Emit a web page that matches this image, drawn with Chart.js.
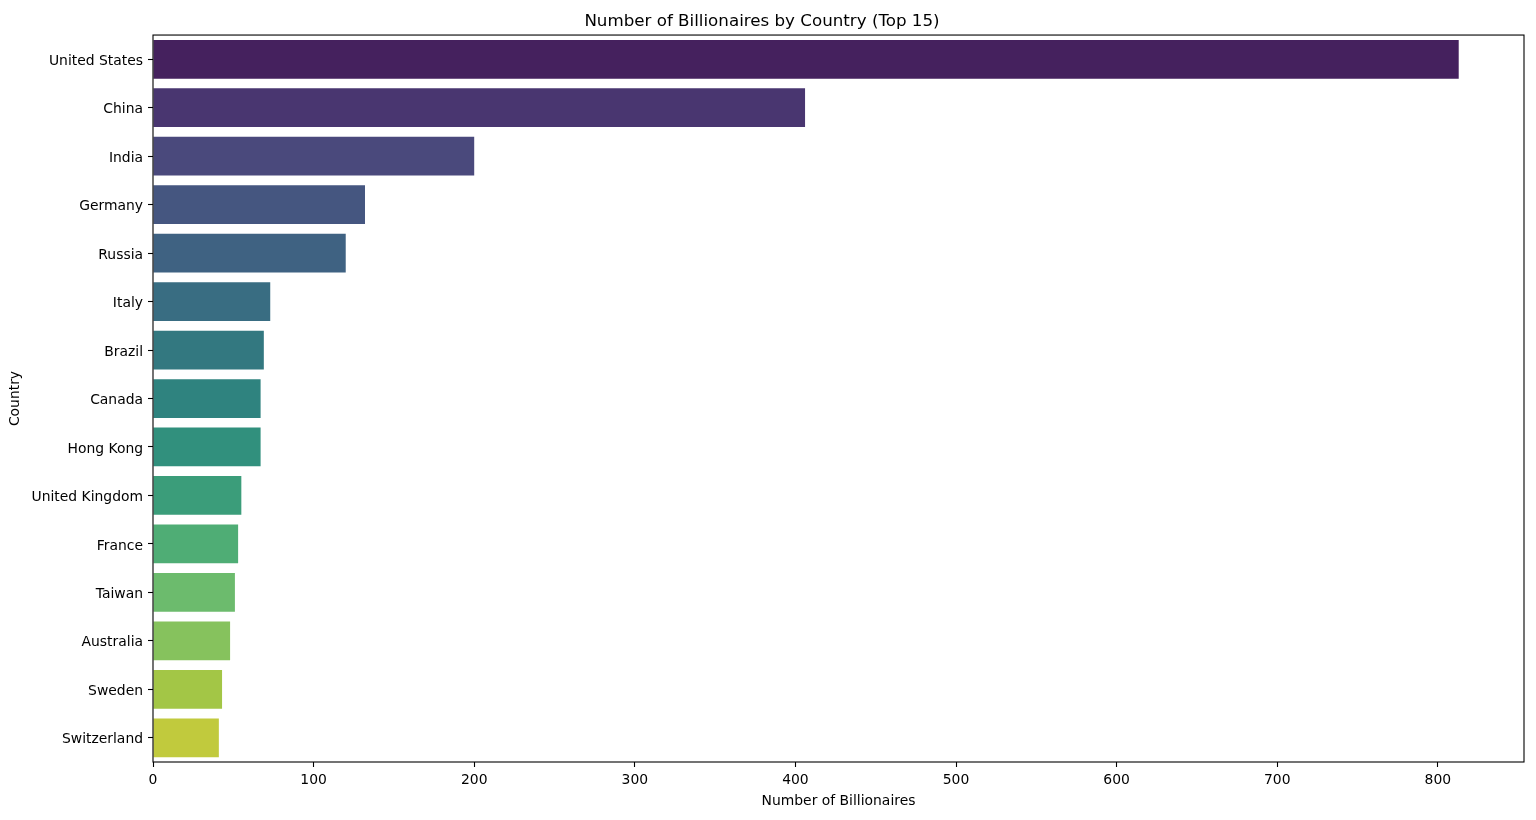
<!DOCTYPE html>
<html>
<head>
<meta charset="utf-8">
<script src="https://cdn.jsdelivr.net/npm/chart.js@4"></script>
<style>
  html, body { margin: 0; padding: 0; background: #fff; }
  #wrap { width: 1536px; height: 820px; }
</style>
</head>
<body>
<div id="wrap"><canvas id="bars"></canvas></div>
<script>
var countries = ["United States","China","India","Germany","Russia","Italy","Brazil","Canada","Hong Kong","United Kingdom","France","Taiwan","Australia","Sweden","Switzerland"];
var billionaires = [813,406,200,132,120,73,69,67,67,55,53,51,48,43,41];
var xTicks = [0,100,200,300,400,500,600,700,800];

// viridis stops, then seaborn-style desaturation (0.75)
var viridis = ["#440154","#482475","#414487","#355f8d","#2a788e","#21918c","#22a884","#44bf70","#7ad151","#bddf26","#fde725"];
function hex2rgb(h) { return [parseInt(h.substr(1,2),16), parseInt(h.substr(3,2),16), parseInt(h.substr(5,2),16)]; }
function viridisAt(t) {
  var p = t * 10, i = Math.min(9, Math.floor(p)), f = p - i;
  var a = hex2rgb(viridis[i]), b = hex2rgb(viridis[i+1]);
  return [0,1,2].map(function(k){ return a[k] + (b[k]-a[k]) * f; });
}
function desat(c, s) {
  var mx = Math.max.apply(null, c), mn = Math.min.apply(null, c);
  var sum = mx + mn, l = sum / 510;
  if (mx === mn) return c;
  var S = l <= 0.5 ? (mx-mn)/sum : (mx-mn)/(510-sum);
  var S2 = S * s;
  var range = l <= 0.5 ? S2 * sum : S2 * (510 - sum);
  var mid = sum / 2, nmx = mid + range/2, nmn = mid - range/2;
  return c.map(function(v){ return nmn + (v - mn) / (mx - mn) * (nmx - nmn); });
}
var colors = countries.map(function(_, i) {
  var c = desat(viridisAt((i+1)/(countries.length+1)), 0.75);
  return 'rgb(' + c.map(Math.round).join(',') + ')';
});

var frame = {
  id: 'frame',
  afterDraw: function(chart) {
    var a = chart.chartArea, ctx = chart.ctx;
    ctx.save();
    ctx.strokeStyle = '#000';
    ctx.lineWidth = 1.1;
    ctx.strokeRect(a.left, a.top, a.right - a.left, a.bottom - a.top);
    ctx.restore();
  }
};

var font = { family: 'DejaVu Sans', size: 13.9 };
var ctx = document.getElementById('bars');
new Chart(ctx, {
  type: 'bar',
  data: {
    labels: countries,
    datasets: [{
      data: billionaires,
      backgroundColor: colors,
      borderWidth: 0,
      categoryPercentage: 0.8,
      barPercentage: 1.0
    }]
  },
  options: {
    indexAxis: 'y',
    responsive: true,
    maintainAspectRatio: false,
    animation: false,
    layout: { padding: { left: 0, right: 12, top: 0, bottom: 0 } },
    plugins: {
      legend: { display: false },
      tooltip: { enabled: false },
      title: {
        display: true,
        text: 'Number of Billionaires by Country (Top 15)',
        color: '#000',
        font: { family: 'DejaVu Sans', size: 16.7, weight: 'normal' },
        padding: { top: 12, bottom: 3 }
      }
    },
    scales: {
      x: {
        min: 0,
        max: 853.65,
        afterBuildTicks: function(s) { s.ticks = xTicks.map(function(v){ return { value: v }; }); },
        afterFit: function(s) { s.height = 58; },
        ticks: { color: '#000', font: font, padding: 5, maxRotation: 0 },
        grid: { display: true, drawOnChartArea: false, drawTicks: true, tickLength: 5, color: '#000', tickWidth: 1.1 },
        border: { display: false },
        title: { display: true, text: 'Number of Billionaires', color: '#000', font: font, padding: { top: 0, bottom: 10.5 } }
      },
      y: {
        afterFit: function(s) { s.width = 153; },
        ticks: { color: '#000', font: font, padding: 5, labelOffset: 2 },
        grid: { display: true, drawOnChartArea: false, drawTicks: true, tickLength: 5, color: '#000', tickWidth: 1.1, offset: false },
        border: { display: false },
        title: { display: true, text: 'Country', color: '#000', font: font, padding: { top: 6.7, bottom: 0 } }
      }
    }
  },
  plugins: [frame]
});
</script>
</body>
</html>
